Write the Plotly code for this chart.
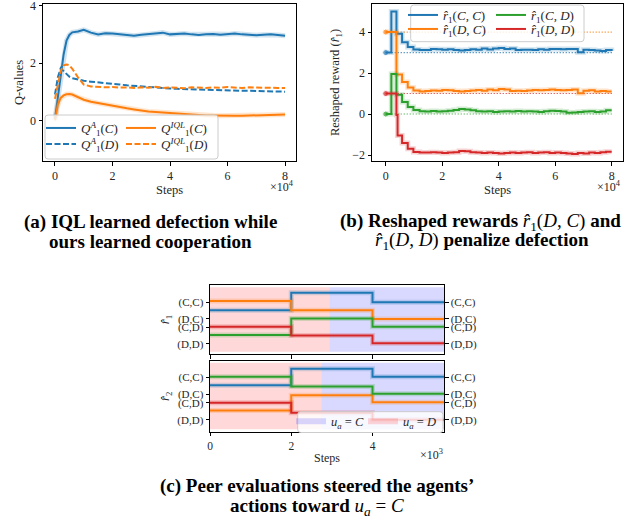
import plotly.graph_objects as go

W, H = 644, 520
def PX(px):
    return px / W
def PY(py):
    return 1 - py / H

BLUE, ORANGE, GREEN, RED = '#1f77b4', '#ff7f0e', '#2ca02c', '#d62728'
SERIF = 'Liberation Serif'
INK = '#262626'

# ---------------- panel (a): Q-values (steps in units of 1e4)
steps_a = [0, 0.1, 0.2, 0.3, 0.4, 0.5, 0.6, 0.8, 1.0,
           1.25, 1.5, 1.75, 2.0, 2.25, 2.5, 2.75, 3.0, 3.25, 3.5, 3.75, 4.0,
           4.25, 4.5, 4.75, 5.0, 5.25, 5.5, 5.75, 6.0, 6.25, 6.5, 6.75, 7.0,
           7.25, 7.5, 7.75, 8.0]
q_agent_C = [0.05, 0.8, 1.6, 2.3, 2.78, 2.98, 3.07, 3.1, 3.16,
             3.06, 3.0, 3.04, 3.03, 3.0, 2.98, 2.95, 2.99, 3.02, 3.03, 3.06, 3.0,
             3.01, 3.03, 3.0, 2.98, 3.0, 3.01, 2.99, 3.0, 3.03, 3.0, 2.98, 2.97,
             2.99, 3.0, 2.98, 2.95]
q_agent_D = [0.9, 1.5, 1.82, 1.72, 1.6, 1.52, 1.47, 1.42, 1.38,
             1.35, 1.33, 1.3, 1.28, 1.25, 1.22, 1.2, 1.17, 1.15, 1.13, 1.12, 1.11,
             1.1, 1.09, 1.08, 1.08, 1.07, 1.06, 1.05, 1.05, 1.04, 1.03, 1.03, 1.02,
             1.02, 1.01, 1.0, 1.0]
q_iql_C = [0.0, 0.55, 0.78, 0.87, 0.91, 0.92, 0.9, 0.8, 0.72,
           0.65, 0.6, 0.55, 0.5, 0.46, 0.42, 0.38, 0.34, 0.31, 0.29, 0.27, 0.26,
           0.24, 0.21, 0.2, 0.18, 0.17, 0.17, 0.16, 0.16, 0.16, 0.16, 0.17, 0.16,
           0.17, 0.18, 0.19, 0.2]
q_iql_D = [0.75, 1.3, 1.72, 1.92, 1.95, 1.92, 1.8, 1.5, 1.25,
           1.18, 1.16, 1.15, 1.16, 1.14, 1.15, 1.13, 1.15, 1.14, 1.17, 1.13, 1.15,
           1.14, 1.12, 1.15, 1.14, 1.13, 1.15, 1.14, 1.16, 1.14, 1.13, 1.15, 1.14,
           1.13, 1.14, 1.13, 1.13]

# ---------------- panel (b): reshaped rewards (steps in units of 1e4)
steps_b = [0, 0.2, 0.38, 0.42, 0.58, 0.78, 0.98,
           1.2, 1.4, 1.6, 1.8, 2.0, 2.2, 2.4, 2.6, 2.8, 3.0, 3.2, 3.4, 3.6, 3.8,
           4.0, 4.2, 4.4, 4.6, 4.8, 5.0, 5.2, 5.4, 5.6, 5.8, 6.0, 6.2, 6.4, 6.6,
           6.8, 7.0, 7.2, 7.4, 7.6, 7.8, 8.0]
r_CC = [3.0, 5.0, 3.92, 3.92, 3.5, 3.27, 3.15,
        3.12, 3.12, 3.18, 3.16, 3.14, 3.16, 3.12, 3.1, 3.12, 3.16, 3.14, 3.2, 3.15, 3.2,
        3.22, 3.18, 3.2, 3.12, 3.14, 3.14, 3.12, 3.16, 3.14, 3.18, 3.18, 3.16, 3.18, 3.18,
        3.02, 3.14, 3.12, 3.1, 3.08, 3.12, 3.08]
r_DC = [4.0, 4.0, 1.93, 1.93, 1.56, 1.3, 1.15,
        1.1, 1.12, 1.15, 1.14, 1.18, 1.16, 1.12, 1.1, 1.12, 1.15, 1.18, 1.14, 1.2, 1.16,
        1.22, 1.2, 1.12, 1.14, 1.12, 1.15, 1.18, 1.16, 1.18, 1.2, 1.18, 1.16, 1.18, 1.2,
        1.02, 1.14, 1.16, 1.1, 1.12, 1.1, 1.1]
r_CD = [0.0, 1.95, 0.94, 0.94, 0.59, 0.34, 0.2,
        0.14, 0.12, 0.15, 0.12, 0.14, 0.16, 0.2, 0.25, 0.22, 0.18, 0.14, 0.12, 0.14, 0.1,
        0.12, 0.14, 0.12, 0.15, 0.12, 0.14, 0.12, 0.1, 0.14, 0.16, 0.15, 0.12, 0.06, 0.08,
        0.1, 0.12, 0.14, 0.1, 0.12, 0.18, 0.18]
r_DD = [1.0, 1.0, -0.05, -1.04, -1.41, -1.69, -1.85,
        -1.88, -1.88, -1.86, -1.88, -1.9, -1.88, -1.86, -1.8, -1.82, -1.86, -1.88, -1.9, -1.88, -1.9,
        -1.92, -1.9, -1.88, -1.9, -1.88, -1.86, -1.9, -1.88, -1.86, -1.9, -1.88, -1.9, -1.92, -1.95,
        -1.9, -1.92, -1.88, -1.9, -1.86, -1.84, -1.84]
r_true = [3, 4, 0, 1]   # original payoffs for (C,C), (D,C), (C,D), (D,D)

# ---------------- panel (c): peer evaluations (steps in units of 1e3)
steps_c = [0, 2, 4, 5.76]
r1_CC = [2.05, 4.15, 3.0, 3.0]
r1_DC = [3.15, 2.05, 1.0, 1.0]
r1_CD = [-0.95, 1.05, 0.05, 0.05]
r1_DD = [0.05, -1.0, -1.95, -1.95]
r2_CC = [2.08, 4.0, 3.07, 3.07]
r2_DC = [-0.9, 0.9, 0.07, 0.07]
r2_CD = [3.07, 1.92, 1.08, 1.08]
r2_DD = [0.0, -1.16, -2.0, -2.0]
switch_r1 = 2.94   # action switches from D to C
switch_r2 = 2.74
band_r1 = [-2.95, 4.8]
band_r2 = [-3.12, 4.72]
pair_vals = [3, 1, 0, -2]
pair_labels = ['(C,C)', '(D,C)', '(C,D)', '(D,D)']

fig = go.Figure()

def add_line(x, y, color, xa, ya, name=None, legend=None, dash='solid',
             shape='linear', width=2, halo=True):
    if halo:
        fig.add_trace(go.Scatter(x=x, y=y, mode='lines', xaxis=xa, yaxis=ya,
                                 line=dict(color=color, width=5, shape=shape),
                                 opacity=0.2, showlegend=False, hoverinfo='skip'))
    fig.add_trace(go.Scatter(x=x, y=y, mode='lines', xaxis=xa, yaxis=ya,
                             line=dict(color=color, width=width, dash=dash, shape=shape),
                             name=name, showlegend=legend is not None,
                             legend=legend if legend else 'legend'))

# (a)
add_line(steps_a, q_agent_C, BLUE, 'x', 'y',
         '<i>Q</i><sup><i>A</i></sup><sub>1</sub>(<i>C</i>)', 'legend')
add_line(steps_a, q_agent_D, BLUE, 'x', 'y',
         '<i>Q</i><sup><i>A</i></sup><sub>1</sub>(<i>D</i>)', 'legend2',
         dash='6px,2.5px', halo=False)
add_line(steps_a, q_iql_C, ORANGE, 'x', 'y',
         '<i>Q</i><sup><i>IQL</i></sup><sub>1</sub>(<i>C</i>)', 'legend3')
add_line(steps_a, q_iql_D, ORANGE, 'x', 'y',
         '<i>Q</i><sup><i>IQL</i></sup><sub>1</sub>(<i>D</i>)', 'legend4',
         dash='6px,2.5px', halo=False)

# (b)
colors_b = [BLUE, ORANGE, GREEN, RED]
for v, c in zip(r_true, colors_b):
    fig.add_trace(go.Scatter(x=[steps_b[0], steps_b[-1]], y=[v, v], mode='lines+markers',
                             xaxis='x2', yaxis='y2',
                             line=dict(color=c, width=1.1, dash='1px,2px'),
                             marker=dict(color=c, size=[6, 0]),
                             showlegend=False, hoverinfo='skip'))
names_b = ['<i>r̂</i><sub>1</sub>(<i>C</i>, <i>C</i>)', '<i>r̂</i><sub>1</sub>(<i>D</i>, <i>C</i>)',
           '<i>r̂</i><sub>1</sub>(<i>C</i>, <i>D</i>)', '<i>r̂</i><sub>1</sub>(<i>D</i>, <i>D</i>)']
for ys, c, n, lg in zip([r_CC, r_DC, r_CD, r_DD], colors_b, names_b,
                        ['legend5', 'legend6', 'legend7', 'legend8']):
    add_line(steps_b, ys, c, 'x2', 'y2', n, lg, shape='hv')

# (c) shading
def band(xa, ya, x0, x1, b, color, name, legend):
    fig.add_trace(go.Scatter(x=[x0, x1, x1, x0, x0], y=[b[0], b[0], b[1], b[1], b[0]],
                             mode='none', fill='toself', fillcolor=color,
                             xaxis=xa, yaxis=ya, name=name, showlegend=legend is not None,
                             legend=legend if legend else 'legend', hoverinfo='skip'))

CFILL = 'rgba(0,0,255,0.15)'
DFILL = 'rgba(255,0,0,0.15)'
LBL_C = '<i>u<sub>a</sub></i> = <i>C</i>'
LBL_D = '<i>u<sub>a</sub></i> = <i>D</i>'
band('x3', 'y3', switch_r1, steps_c[-1], band_r1, CFILL, LBL_C, None)
band('x3', 'y3', steps_c[0], switch_r1, band_r1, DFILL, LBL_D, None)
band('x4', 'y4', switch_r2, steps_c[-1], band_r2, CFILL, LBL_C, 'legend9')
band('x4', 'y4', steps_c[0], switch_r2, band_r2, DFILL, LBL_D, 'legend10')

for ys, c in zip([r1_CC, r1_DC, r1_CD, r1_DD], colors_b):
    add_line(steps_c, ys, c, 'x3', 'y3', shape='hv', halo=True)
for ys, c in zip([r2_CC, r2_DC, r2_CD, r2_DD], colors_b):
    add_line(steps_c, ys, c, 'x4', 'y4', shape='hv', halo=True)

# dummy traces so the right-hand label axes exist
fig.add_trace(go.Scatter(x=[None], y=[None], xaxis='x3', yaxis='y5', showlegend=False))
fig.add_trace(go.Scatter(x=[None], y=[None], xaxis='x4', yaxis='y6', showlegend=False))

tickfont = dict(family=SERIF, size=12, color=INK)
smallfont = dict(family=SERIF, size=11, color=INK)
titlefont = dict(family=SERIF, size=12.5, color=INK)
ax = dict(showline=True, linecolor='black', linewidth=1, mirror=True, ticks='outside',
          ticklen=3.5, tickwidth=0.8, tickcolor='black', showgrid=False, zeroline=False,
          tickfont=tickfont, automargin=False, ticklabeloverflow='allow')

dom_ab_y = [PY(161), PY(4)]
fig.update_layout(
    width=W, height=H, autosize=False, margin=dict(l=0, r=0, t=0, b=0, autoexpand=False),
    paper_bgcolor='white', plot_bgcolor='white',
    font=dict(family=SERIF, size=12, color=INK),
    xaxis=dict(ax, domain=[PX(43), PX(296)], anchor='y', range=[-0.417, 8.38],
               tickvals=[0, 2, 4, 6, 8],
               title=dict(text='Steps', font=titlefont, standoff=3)),
    yaxis=dict(ax, domain=dom_ab_y, anchor='x', range=[-1.42, 4.06], tickvals=[0, 2, 4],
               title=dict(text='Q-values', font=titlefont, standoff=3)),
    xaxis2=dict(ax, domain=[PX(372), PX(623)], anchor='y2', range=[-0.485, 8.4],
                tickvals=[0, 2, 4, 6, 8],
                title=dict(text='Steps', font=titlefont, standoff=3)),
    yaxis2=dict(ax, domain=dom_ab_y, anchor='x2', range=[-2.29, 5.37],
                tickvals=[-2, 0, 2, 4],
                title=dict(text='Reshaped reward (<i>r̂</i><sub>1</sub>)', font=titlefont,
                           standoff=9)),
    xaxis3=dict(ax, domain=[PX(210), PX(444)], anchor='y3', range=[steps_c[0], steps_c[-1]],
                tickvals=[0, 2, 4], showticklabels=False),
    yaxis3=dict(ax, domain=[PY(354), PY(285)], anchor='x3', range=[-3.23, 5.08],
                tickvals=pair_vals, ticktext=pair_labels, tickfont=smallfont,
                title=dict(text='<i>r̂</i><sub>1</sub>', font=titlefont, standoff=4)),
    xaxis4=dict(ax, domain=[PX(210), PX(444)], anchor='y4', range=[steps_c[0], steps_c[-1]],
                tickvals=[0, 2, 4], tickfont=dict(family=SERIF, size=11.5, color=INK),
                title=dict(text='Steps', font=dict(family=SERIF, size=12, color=INK),
                           standoff=2)),
    yaxis4=dict(ax, domain=[PY(431.7), PY(361)], anchor='x4', range=[-3.4, 4.92],
                tickvals=pair_vals, ticktext=pair_labels, tickfont=smallfont,
                title=dict(text='<i>r̂</i><sub>2</sub>', font=titlefont, standoff=4)),
    yaxis5=dict(ax, overlaying='y3', anchor='x3', side='right', range=[-3.23, 5.08],
                showline=False, mirror=False, tickvals=pair_vals, ticktext=pair_labels,
                tickfont=smallfont),
    yaxis6=dict(ax, overlaying='y4', anchor='x4', side='right', range=[-3.4, 4.92],
                showline=False, mirror=False, tickvals=pair_vals, ticktext=pair_labels,
                tickfont=smallfont),
)

# legends (one per matplotlib legend cell)
def leg(xpx, ypx, size=13):
    return dict(x=PX(xpx), y=PY(ypx), xanchor='left', yanchor='middle',
                bgcolor='rgba(0,0,0,0)', borderwidth=0,
                font=dict(family=SERIF, size=size, color=INK))

fig.update_layout(
    legend=leg(41, 128), legend2=leg(41, 144), legend3=leg(121, 128), legend4=leg(121, 144),
    legend5=leg(403, 15), legend6=leg(403, 29), legend7=leg(491, 15), legend8=leg(491, 29),
    legend9=leg(291, 421.5, 12.5), legend10=leg(363, 421.5, 12.5),
)

def frame(x0, y0, x1, y1, r=3):
    p = (f'M{PX(x0 + r)},{PY(y0)} L{PX(x1 - r)},{PY(y0)} Q{PX(x1)},{PY(y0)} {PX(x1)},{PY(y0 + r)} '
         f'L{PX(x1)},{PY(y1 - r)} Q{PX(x1)},{PY(y1)} {PX(x1 - r)},{PY(y1)} '
         f'L{PX(x0 + r)},{PY(y1)} Q{PX(x0)},{PY(y1)} {PX(x0)},{PY(y1 - r)} '
         f'L{PX(x0)},{PY(y0 + r)} Q{PX(x0)},{PY(y0)} {PX(x0 + r)},{PY(y0)} Z')
    return dict(type='path', xref='paper', yref='paper', path=p, layer='above',
                fillcolor='rgba(255,255,255,0.8)', line=dict(color='#cccccc', width=1))

fig.update_layout(shapes=[frame(45, 115, 218, 159), frame(410.7, 5, 584, 41.7),
                          frame(297.7, 411.7, 443, 432.5)])

# exponent labels and captions
ann = []
for xr, yc, t in [(296, 186, '×10<sup>4</sup>'), (623, 186, '×10<sup>4</sup>'),
                  (445, 454, '×10<sup>3</sup>')]:
    ann.append(dict(x=PX(xr), y=PY(yc), xref='paper', yref='paper', xanchor='right',
                    yanchor='middle', text=t, showarrow=False,
                    font=dict(family=SERIF, size=12, color=INK)))
cap = dict(family=SERIF, size=19, color='black')
for xc, yc, t in [
    (150, 222, '<b>(a) IQL learned defection while</b>'),
    (150, 241, '<b>ours learned cooperation</b>'),
    (480, 222, '<b>(b) Reshaped rewards</b> <i>r̂</i><sub>1</sub>(<i>D</i>, <i>C</i>) <b>and</b>'),
    (482, 241, '<i>r̂</i><sub>1</sub>(<i>D</i>, <i>D</i>) <b>penalize defection</b>'),
    (317, 486, '<b>(c) Peer evaluations steered the agents’</b>'),
    (317, 507, '<b>actions toward</b> <i>u<sub>a</sub></i> = <i>C</i>'),
]:
    ann.append(dict(x=PX(xc), y=PY(yc), xref='paper', yref='paper', xanchor='center',
                    yanchor='middle', text=t, showarrow=False, font=cap))
fig.update_layout(annotations=ann)

# the page body gets no default margin, so the figure sits at the window's corner
fig.write_html('out.html', config={'displayModeBar': False},
               post_script="document.body.style.margin='0';")
